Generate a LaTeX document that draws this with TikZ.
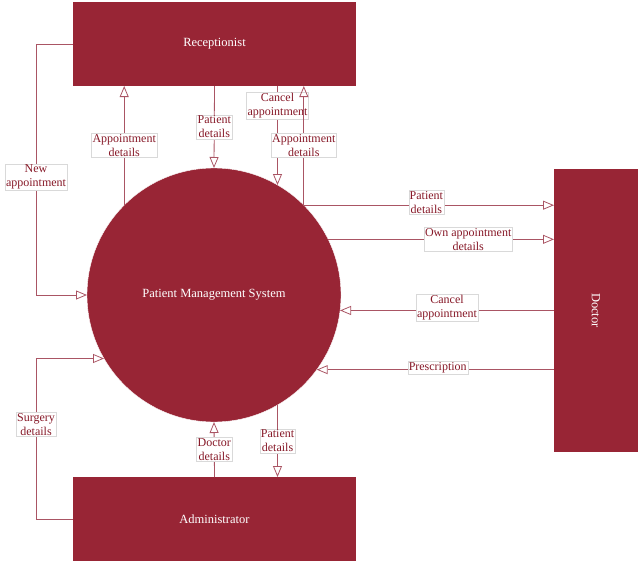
\documentclass[tikz,border=0pt]{standalone}
\usepackage{fontspec}
\setmainfont{Liberation Serif}
\usetikzlibrary{arrows.meta,positioning,calc}
\definecolor{dfdred}{RGB}{152,37,53}
\definecolor{flowred}{RGB}{170,85,100}
\definecolor{lbltext}{RGB}{135,25,40}

\begin{document}
\begin{tikzpicture}[
      x=1pt,y=-1pt,
      entity/.style={fill=dfdred,draw=none,text=white,outer sep=0pt,
                     font=\fontsize{12.5}{14}\selectfont},
      proc/.style={circle,fill=dfdred,draw=white,text=white,outer sep=0pt,
                   minimum size=254pt,inner sep=0pt,font=\fontsize{12.5}{14}\selectfont},
      lbl/.style={fill=white,draw=black!15,line width=0.4pt,inner sep=1pt,
                  align=center,text=lbltext,font=\fontsize{12}{14}\selectfont},
      flow/.style={-{Triangle[open,length=11pt,width=9pt]},line width=0.8pt,flowred}
  ]
    \useasboundingbox (0,0) rectangle (643,565);

    \node[entity,minimum width=283pt,minimum height=84pt] (rec) at (214.5,44) {Receptionist};
    \node[entity,minimum width=283pt,minimum height=84pt] (adm) at (214.5,519) {Administrator};
    \node[entity,minimum width=84pt,minimum height=283pt] (doc) at (596,310.5) {};
    \node[text=white,rotate=-90,font=\fontsize{12.5}{14}\selectfont] (doclbl) at (doc.center) {Doctor};
    \node[proc] (sys) at (214,295) {Patient Management System};

    \coordinate (lx) at (36,0);

    \draw[flow] (rec.west) -- (rec.west -| lx) -- (sys.west -| lx)
        node[lbl,pos=0.53] (l1) {New\\appointment} -- (sys.west);
    \draw[flow] (sys.135) -- (sys.135 |- rec.south)
        node[lbl,pos=0.5] (l2) {Appointment\\details};
    \draw[flow] (rec.south) -- (sys.north)
        node[lbl,pos=0.5] (l3) {Patient\\details};
    \draw[flow] (rec.south -| sys.60) -- (sys.60)
        node[lbl,pos=0.2] (l4) {Cancel\\appointment};
    \draw[flow] (sys.45) -- (sys.45 |- rec.south)
        node[lbl,pos=0.5] (l5) {Appointment\\details};

    \draw[flow] (sys.45) -- (sys.45 -| doc.west)
        node[lbl,pos=0.49,yshift=3pt] (l6) {Patient\\details};
    \draw[flow] (sys.26) -- (sys.26 -| doc.west)
        node[lbl,pos=0.62] (l7) {Own appointment\\details};
    \draw[flow] (doc.west |- sys.-7) -- (sys.-7)
        node[lbl,pos=0.5,yshift=3pt] (l8) {Cancel\\appointment};
    \draw[flow] (doc.west |- sys.-36) -- (sys.-36)
        node[lbl,pos=0.49,yshift=2pt] (l9) {Prescription};

    \draw[flow] (adm.west) -- (adm.west -| lx) -- (sys.210 -| lx)
        node[lbl,pos=0.59] (l10) {Surgery\\details} -- (sys.210);
    \draw[flow] (adm.north) -- (sys.south)
        node[lbl,pos=0.5] (l11) {Doctor\\details};
    \draw[flow] (sys.-60) -- (sys.-60 |- adm.north)
        node[lbl,pos=0.5] (l12) {Patient\\details};
  \end{tikzpicture}
\end{document}
